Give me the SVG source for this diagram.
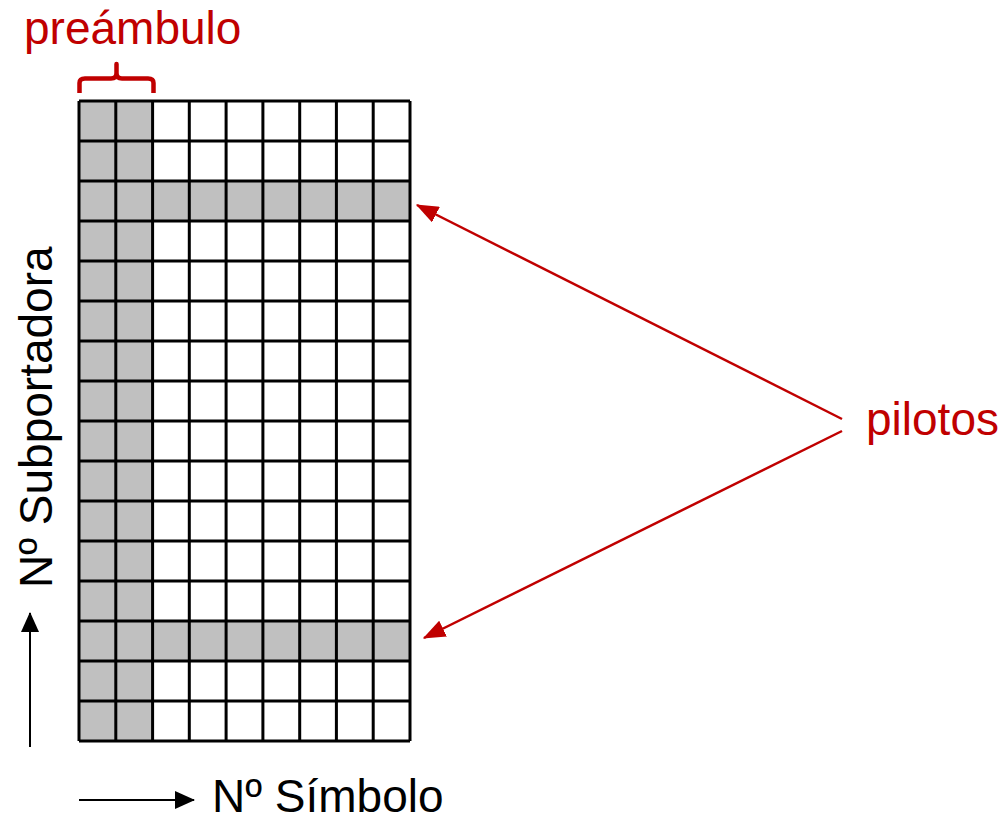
<svg xmlns="http://www.w3.org/2000/svg" width="1002" height="816" viewBox="0 0 1002 816">
<style>
.red{fill:#C00000;font-family:"Liberation Sans",Arial,sans-serif;font-size:46px}
.blk{fill:#000;font-family:"Liberation Sans",Arial,sans-serif;font-size:46px}
.grid{stroke:#000;stroke-width:3;fill:none}
.g{fill:#C0C0C0}
</style>
<defs>
<marker id="ra" markerWidth="9" markerHeight="7" refX="8.5" refY="3.5" orient="auto" markerUnits="strokeWidth"><path d="M0,0 L9,3.5 L0,7 z" fill="#C00000"/></marker>
<marker id="ba" markerWidth="10" markerHeight="9" refX="9.5" refY="4.5" orient="auto" markerUnits="strokeWidth"><path d="M0,0 L10,4.5 L0,9 z" fill="#000"/></marker>
</defs>
<rect width="1002" height="816" fill="#fff"/>
<g id="grid">
<rect class="g" x="79" y="101" width="73.6" height="640"/>
<rect class="g" x="79" y="181" width="331" height="40"/>
<rect class="g" x="79" y="621" width="331" height="40"/>
<path class="grid" d="M79,101V741M115.8,101V741M152.6,101V741M189.3,101V741M226.1,101V741M262.9,101V741M299.7,101V741M336.4,101V741M373.2,101V741M410,101V741
M79,101H410M79,141H410M79,181H410M79,221H410M79,261H410M79,301H410M79,341H410M79,381H410M79,421H410M79,461H410M79,501H410M79,541H410M79,581H410M79,621H410M79,661H410M79,701H410M79,741H410"/>
</g>
<g id="preambulo">
<path d="M79.5,93 L79.5,83 Q79.5,78.5 85,78.5 L111,78.5 Q116.5,78.5 116.5,73 L116.5,64 L116.5,73 Q116.5,78.5 122,78.5 L148,78.5 Q153.5,78.5 153.5,83 L153.5,93" fill="none" stroke="#C00000" stroke-width="4.5" stroke-linejoin="round"/>
<text class="red" x="24" y="44">preámbulo</text>
</g>
<g id="pilotos">
<text class="red" x="866" y="435">pilotos</text>
</g>
<g id="connectors">
<line x1="842" y1="419" x2="417" y2="205" stroke="#C00000" stroke-width="2.5" marker-end="url(#ra)"/>
<line x1="842" y1="431" x2="424" y2="638" stroke="#C00000" stroke-width="2.5" marker-end="url(#ra)"/>
<line x1="30" y1="747" x2="30" y2="613" stroke="#000" stroke-width="2" marker-end="url(#ba)"/>
<line x1="79" y1="800" x2="194" y2="800" stroke="#000" stroke-width="2" marker-end="url(#ba)"/>
</g>
<g id="axis-y">
<text class="blk" transform="translate(52,588) rotate(-90)">Nº Subportadora</text>
</g>
<g id="axis-x">
<text class="blk" x="212" y="812">Nº Símbolo</text>
</g>
</svg>
